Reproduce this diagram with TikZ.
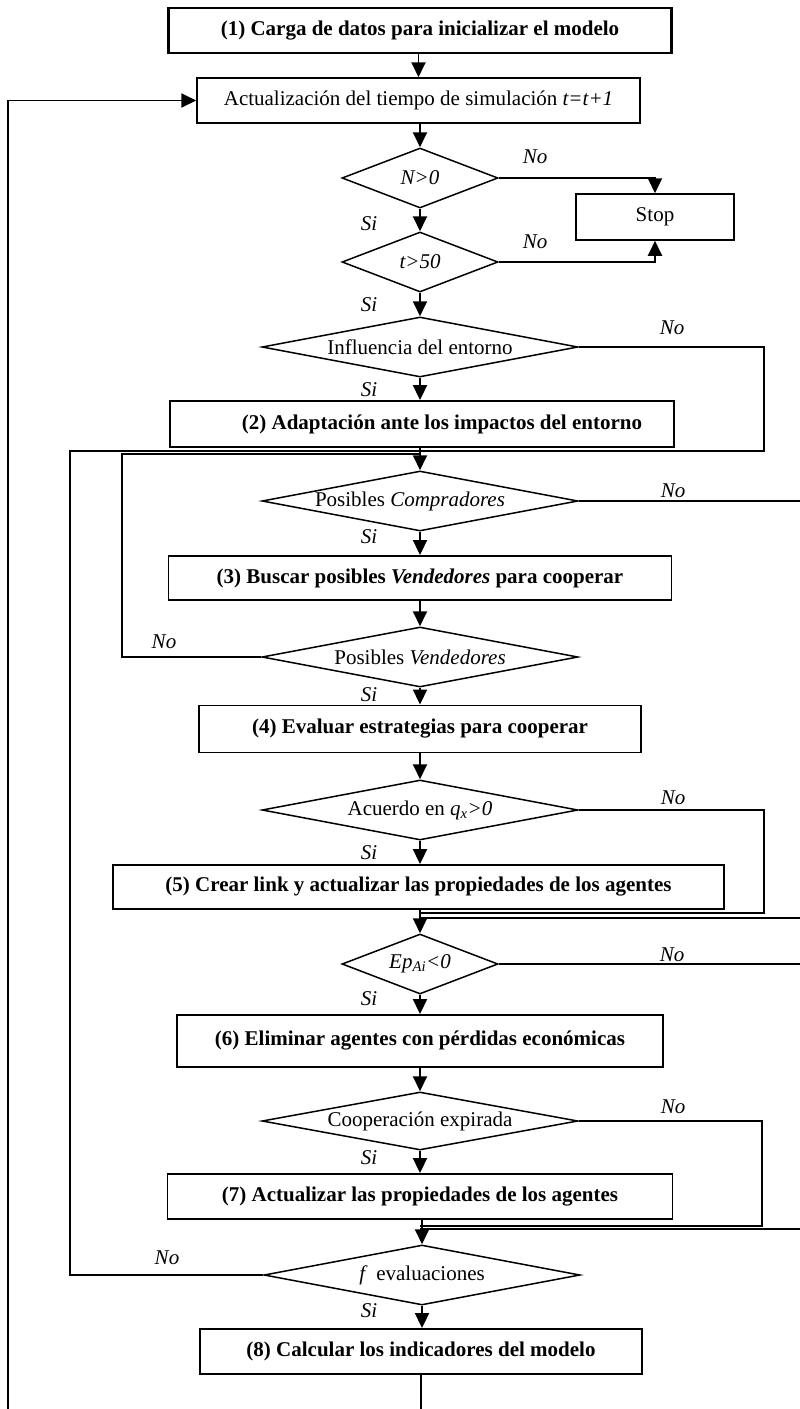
\documentclass[tikz,border=0pt]{standalone}
\usepackage{fontspec}
\setmainfont{Liberation Serif}
\usetikzlibrary{shapes.geometric,arrows.meta}
\begin{document}
\begin{tikzpicture}[x=1pt,y=-1pt,
  every node/.style={font=\fontsize{21}{24}\selectfont},
  proc/.style={draw, line width=1.9pt, rectangle, inner sep=0pt,
    font=\fontsize{21}{24}\selectfont\bfseries},
  plainbox/.style={draw, line width=1.5pt, rectangle, inner sep=0pt},
  decision/.style={draw, line width=1.5pt, diamond, inner sep=0pt},
  smalldec/.style={decision, minimum width=156pt, minimum height=60pt},
  widedec/.style={decision, minimum width=316pt, minimum height=60pt},
  lab/.style={font=\fontsize{21}{24}\selectfont\itshape, inner sep=0pt},
  flow/.style={line width=1.9pt},
  arr/.style={flow, -{Triangle[length=15pt,width=14pt]}},
]
\useasboundingbox (0,0) rectangle (800,1409);

% main column
\node[proc, line width=2.2pt, minimum width=503pt, minimum height=45pt] (b1) at (420,30.5)
  {(1) Carga de datos para inicializar el modelo};
\node[plainbox, minimum width=443pt, minimum height=45pt] (act) at (418.5,100.5)
  {Actualización del tiempo de simulación \textit{t=t+1}};
\node[smalldec] (d1) at (420,178) {\makebox[0pt]{\textit{N>0}}};
\node[plainbox, minimum width=158pt, minimum height=46pt] (stop) at (655,217) {Stop};
\node[smalldec] (d2) at (420,262) {\makebox[0pt]{\textit{t>50}}};
\node[widedec] (d3) at (420,347) {\makebox[0pt]{Influencia del entorno}};
\node[proc, minimum width=504pt, minimum height=46pt] (b2) at (422,424)
  {\hspace{40pt}(2) Adaptación ante los impactos del entorno};
\node[widedec] (d4) at (420,501) {\makebox[0pt]{Posibles \textit{Compradores}\hspace{20pt}}};
\node[proc, minimum width=503pt, minimum height=44pt] (b3) at (420,578)
  {(3) Buscar posibles \textit{Vendedores} para cooperar};
\node[widedec] (d5) at (420,657) {\makebox[0pt]{Posibles \textit{Vendedores}}};
\node[proc, minimum width=442pt, minimum height=47pt] (b4) at (420,729)
  {(4) Evaluar estrategias para cooperar};
\node[widedec] (d6) at (420,810) {\makebox[0pt]{Acuerdo en \textit{q\textsubscript{x}>0}}};
\node[proc, minimum width=611pt, minimum height=44pt] (b5) at (418.5,887)
  {(5) Crear link y actualizar las propiedades de los agentes};
\node[smalldec] (d7) at (420,964) {\makebox[0pt]{\textit{Ep\textsubscript{Ai}<0}}};
\node[proc, minimum width=486pt, minimum height=52pt] (b6) at (420,1041)
  {(6) Eliminar agentes con pérdidas económicas};
\node[decision, minimum width=316pt, minimum height=58pt] (d8) at (420,1121)
  {\makebox[0pt]{Cooperación expirada}};
\node[proc, minimum width=505pt, minimum height=45pt] (b7) at (420,1196.5)
  {(7) Actualizar las propiedades de los agentes};
\node[widedec] (d9) at (422,1275) {\makebox[0pt]{\textit{f}\, evaluaciones}};
\node[proc, minimum width=442pt, minimum height=45pt] (b8) at (421,1351.5)
  {(8) Calcular los indicadores del modelo};

% branch labels
\node[lab] (si1) at (369,224) {Si};
\node[lab] (si2) at (369,305) {Si};
\node[lab] (si3) at (369,390) {Si};
\node[lab] (si4) at (369,537) {Si};
\node[lab] (si5) at (369,695) {Si};
\node[lab] (si6) at (369,853) {Si};
\node[lab] (si7) at (369,999) {Si};
\node[lab] (si8) at (369,1158) {Si};
\node[lab] (si9) at (369,1311) {Si};
\node[lab] (no1) at (535,157) {No};
\node[lab] (no2) at (535,242) {No};
\node[lab] (no3) at (672,328) {No};
\node[lab] (no4) at (673,491) {No};
\node[lab] (no5) at (164,642) {No};
\node[lab] (no6) at (673,798) {No};
\node[lab] (no7) at (672,955) {No};
\node[lab] (no8) at (673,1107) {No};
\node[lab] (no9) at (167,1258) {No};

% junction and corner points
\coordinate (j1) at (420,451);
\coordinate (j2) at (420,454);
\coordinate (j3) at (420,913);
\coordinate (j4) at (420,918);
\coordinate (j5) at (420,1226);
\coordinate (j6) at (420,1229);
\coordinate (r1) at (764,451);
\coordinate (l1) at (70,451);
\coordinate (l2) at (122,454);
\coordinate (r3) at (764,913);
\coordinate (r5) at (762,1226);
\coordinate (pcout) at (800,501);
\coordinate (pcin) at (800,918);
\coordinate (epout) at (800,964);
\coordinate (epin) at (800,1229);
\coordinate (bot) at (421,1409);
\coordinate (botl) at (8,1409);
\coordinate (topl) at (8,100.5);

% straight flow
\draw[arr] (b1.south -| act.north) -- (act.north);
\draw[arr] (act.south -| d1.north) -- (d1.north);
\draw[arr] (d1.south) -- (d2.north);
\draw[arr] (d2.south) -- (d3.north);
\draw[arr] (d3.south) -- (d3.south |- b2.north);
\draw[arr] (b2.south -| d4.north) -- (d4.north);
\draw[arr] (d4.south) -- (d4.south |- b3.north);
\draw[arr] (b3.south) -- (d5.north);
\draw[arr] (d5.south) -- (d5.south |- b4.north);
\draw[arr] (b4.south) -- (d6.north);
\draw[arr] (d6.south) -- (d6.south |- b5.north);
\draw[arr] (b5.south -| d7.north) -- (d7.north);
\draw[arr] (d7.south) -- (d7.south |- b6.north);
\draw[arr] (b6.south) -- (d8.north);
\draw[arr] (d8.south) -- (d8.south |- b7.north);
\draw[arr] (b7.south -| d9.north) -- (d9.north);
\draw[arr] (d9.south) -- (d9.south |- b8.north);

% stop branches
\draw[arr] (d1.east) -| (stop.north);
\draw[arr] (d2.east) -| (stop.south);

% loops
\draw[flow] (d3.east) -| (r1) -- (j1);
\draw[flow] (d9.west) -| (l1) -- (j1);
\draw[flow] (d5.west) -| (l2) -- (j2);
\draw[flow] (d4.east) -- (pcout);
\draw[flow] (pcin) -- (j4);
\draw[flow] (d6.east) -| (r3) -- (j3);
\draw[flow] (d7.east) -- (epout);
\draw[flow] (epin) -- (j6);
\draw[flow] (d8.east) -| (r5) -- (j5);
\draw[flow] (b8.south) -- (bot);
\draw[arr] (botl) -- (topl) -- (act.west);
\end{tikzpicture}
\end{document}
